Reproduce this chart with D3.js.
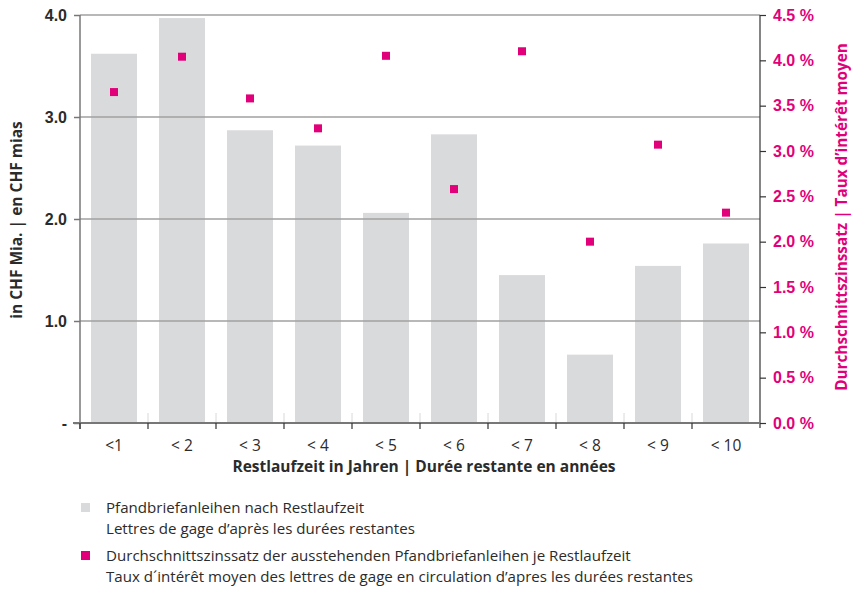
<!DOCTYPE html>
<html>
<head>
<meta charset="utf-8">
<script src="https://cdn.jsdelivr.net/npm/d3@7"></script>
<style>
  html, body { margin: 0; padding: 0; background: #fff; }
  svg { display: block; font-family: "Open Sans", "Noto Sans", sans-serif; }
</style>
</head>
<body>
<svg id="chart" width="865" height="589"></svg>
<script>
// Remaining maturity buckets
const categories = ["<1", "< 2", "< 3", "< 4", "< 5", "< 6", "< 7", "< 8", "< 9", "< 10"];
// Outstanding Pfandbrief loans, CHF bn
const volumes = [3.62, 3.97, 2.87, 2.72, 2.06, 2.83, 1.45, 0.67, 1.54, 1.76];
// Average interest rate, %
const rates = [3.65, 4.04, 3.58, 3.25, 4.05, 2.58, 4.10, 2.00, 3.07, 2.32];
// Axis ticks
const leftTicks = [0, 1, 2, 3, 4];
const rightTicks = [0, 0.5, 1, 1.5, 2, 2.5, 3, 3.5, 4, 4.5];

const legendItems = [
  { kind: "bar", lines: ["Pfandbriefanleihen nach Restlaufzeit", "Lettres de gage d\u2019apr\u00e8s les dur\u00e9es restantes"] },
  { kind: "rate", lines: ["Durchschnittszinssatz der ausstehenden Pfandbriefanleihen je Restlaufzeit", "Taux d\u00b4int\u00e9r\u00eat moyen des lettres de gage en circulation d\u2019apres les dur\u00e9es restantes"] }
];

const BAR = "#d9dadc", PINK = "#e2007a", TEXT = "#2b2b2b", GRID = "#a0a0a0";

const svg = d3.select("#chart");
const m = { left: 80, right: 760, top: 15, bottom: 423 };

const x = d3.scaleBand().domain(categories).range([m.left, m.right]).paddingInner(22 / 68).paddingOuter(11 / 68);
const xBand = d3.scaleBand().domain(categories).range([m.left, m.right]);
const yL = d3.scaleLinear().domain([0, 4]).range([m.bottom, m.top]);
const yR = d3.scaleLinear().domain([0, 4.5]).range([m.bottom, m.top]);

// bars
svg.append("g").selectAll("rect").data(categories).join("rect")
  .attr("x", d => x(d))
  .attr("width", x.bandwidth())
  .attr("y", (d, i) => yL(volumes[i]))
  .attr("height", (d, i) => yL(0) - yL(volumes[i]))
  .attr("fill", BAR);

// horizontal gridlines, drawn over the bars
svg.append("g").selectAll("line").data(leftTicks.filter(t => t > 0)).join("line")
  .attr("x1", m.left).attr("x2", m.right)
  .attr("y1", d => yL(d)).attr("y2", d => yL(d))
  .attr("stroke", GRID).attr("stroke-width", 1.5);

// faint separators above the baseline
svg.append("g").selectAll("line").data(categories.slice(1)).join("line")
  .attr("x1", d => xBand(d)).attr("x2", d => xBand(d))
  .attr("y1", m.bottom - 10).attr("y2", m.bottom)
  .attr("stroke", "#d8d8d8").attr("stroke-width", 1);

// left axis
const gL = svg.append("g").attr("transform", `translate(${m.left},0)`)
  .call(d3.axisLeft(yL).tickValues(leftTicks).tickSize(6).tickPadding(7)
    .tickFormat(d => d === 0 ? "-" : d3.format(".1f")(d)));
gL.select(".domain").attr("stroke", "#777").attr("stroke-width", 1.5).attr("d", `M0,${m.top}V${m.bottom + 6}`);
gL.selectAll(".tick line").attr("stroke", "#777").attr("stroke-width", 1.5);
gL.selectAll(".tick text").attr("fill", TEXT).attr("font-size", 16).attr("font-weight", "bold").attr("font-family", null);

// right axis
const gR = svg.append("g").attr("transform", `translate(${m.right},0)`)
  .call(d3.axisRight(yR).tickValues(rightTicks).tickSize(6).tickPadding(7)
    .tickFormat(d => d3.format(".1f")(d) + " %"));
gR.select(".domain").attr("stroke", "#333").attr("stroke-width", 1.2).attr("d", `M0,${m.top}V${m.bottom + 5}`);
gR.selectAll(".tick line").attr("stroke", "#333").attr("stroke-width", 1.2);
gR.selectAll(".tick text").attr("fill", PINK).attr("font-size", 16).attr("font-weight", "bold").attr("font-family", null);

// bottom axis: baseline with ticks at bucket boundaries
const gB = svg.append("g");
gB.append("line").attr("x1", m.left - 7).attr("x2", m.right).attr("y1", m.bottom).attr("y2", m.bottom)
  .attr("stroke", "#777").attr("stroke-width", 1.8);
gB.selectAll("line.tk").data(categories).join("line").attr("class", "tk")
  .attr("x1", d => xBand(d)).attr("x2", d => xBand(d))
  .attr("y1", m.bottom).attr("y2", m.bottom + 6)
  .attr("stroke", "#333").attr("stroke-width", 1.2);
gB.selectAll("text").data(categories).join("text")
  .attr("x", d => xBand(d) + xBand.bandwidth() / 2)
  .attr("y", 451)
  .attr("text-anchor", "middle")
  .attr("fill", TEXT).attr("font-size", 15.5).attr("font-weight", 400)
  .text(d => d);

// rate markers
svg.append("g").selectAll("rect").data(categories).join("rect")
  .attr("x", d => xBand(d) + xBand.bandwidth() / 2 - 4)
  .attr("y", (d, i) => yR(rates[i]) - 4)
  .attr("width", 8).attr("height", 8)
  .attr("fill", PINK);

// axis titles
svg.append("text")
  .attr("transform", "translate(22,220) rotate(-90)")
  .attr("text-anchor", "middle")
  .attr("fill", TEXT).attr("font-size", 15.5).attr("font-weight", "bold")
  .text("in CHF Mia. | en CHF mias");

svg.append("text")
  .attr("transform", "translate(847,217) rotate(-90)")
  .attr("text-anchor", "middle")
  .attr("fill", PINK).attr("font-size", 15.3).attr("font-weight", "bold")
  .text("Durchschnittszinssatz | Taux d\u2019int\u00e9r\u00eat moyen");

svg.append("text")
  .attr("x", 424).attr("y", 472)
  .attr("text-anchor", "middle")
  .attr("fill", TEXT).attr("font-size", 15.5).attr("font-weight", "bold")
  .text("Restlaufzeit in Jahren | Dur\u00e9e restante en ann\u00e9es");

// legend
const lg = svg.append("g").selectAll("g").data(legendItems).join("g")
  .attr("transform", (d, i) => `translate(80,${508 + i * 48})`);
lg.append("rect")
  .attr("x", 1).attr("y", -5).attr("width", 9).attr("height", 9)
  .attr("fill", d => d.kind === "bar" ? BAR : PINK);
lg.each(function (d) {
  d3.select(this).selectAll("text").data(d.lines).join("text")
    .attr("x", 26).attr("y", (t, j) => 5 + j * 21)
    .attr("fill", TEXT).attr("font-size", 15.1).attr("font-weight", 400)
    .text(t => t);
});
</script>
</body>
</html>
